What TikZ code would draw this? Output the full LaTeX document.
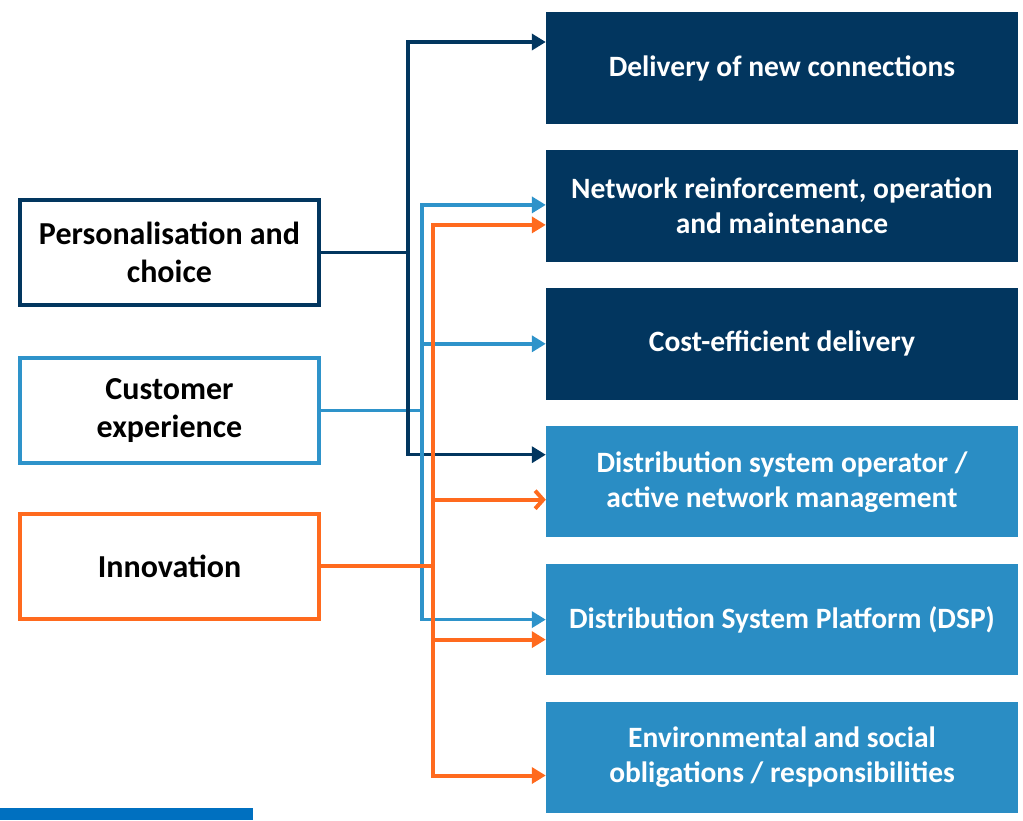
\documentclass[tikz,border=0pt]{standalone}
\usepackage{fontspec}
\setmainfont{Carlito}
\usetikzlibrary{positioning, arrows.meta}

\definecolor{navy}{HTML}{02365F}
\definecolor{midblue}{HTML}{2A8DC4}
\definecolor{lineblue}{HTML}{2E93CA}
\definecolor{flame}{HTML}{FF6A1E}
\definecolor{barblue}{HTML}{0070C0}

\begin{document}
\begin{tikzpicture}[x=1pt, y=-1pt,
    driver/.style={draw=#1, line width=4pt, fill=white, minimum width=299pt,
        minimum height=105pt, align=center, inner sep=2pt,
        font=\bfseries\fontsize{32}{38}\selectfont},
    outcome/.style={fill=#1, minimum width=472pt, minimum height=111.5pt,
        inner sep=0pt, text=white, align=center,
        font=\bfseries\fontsize{29.5}{35}\selectfont},
    link/.style={draw=#1, line width=3.5pt},
    tip/.style={-{Triangle[length=14pt,width=16pt]}},
    barb/.style={-{Straight Barb[length=8pt,width=18pt]}}
    ]
    \useasboundingbox (0,0) rectangle (1023,820);
    \fill[barblue] (0,808) rectangle (253,820);

    % outcomes
    \node[outcome=navy] (deliv) at (782,68) {Delivery of new connections};
    \node[outcome=navy, below=26pt of deliv] (netw) {Network reinforcement, operation\\and maintenance};
    \node[outcome=navy, below=26pt of netw] (cost) {Cost-efficient delivery};
    \node[outcome=midblue, below=26pt of cost] (dso) {Distribution system operator /\\active network management};
    \node[outcome=midblue, below=26pt of dso] (dsp) {Distribution System Platform (DSP)};
    \node[outcome=midblue, below=26pt of dsp] (env) {Environmental and social\\obligations / responsibilities};

    % drivers
    \node[driver=navy] (pers) at (169.5,252.5) {Personalisation and\\choice};
    \node[driver=lineblue] (cust) at (169.5,410.5) {Customer\\experience};
    \node[driver=flame] (innov) at (169.5,566) {Innovation};

    \coordinate (pbus) at ([xshift=87pt]pers.east);
    \coordinate (cbus) at ([xshift=101pt]cust.east);
    \coordinate (ibus) at ([xshift=112pt]innov.east);

    \draw[link=lineblue] (cust.east) -- (cbus);

    \draw[link=navy] (pers.east) -- (pbus);
    \draw[link=navy, tip] (pbus) |- ([yshift=26pt]deliv.west);
    \draw[link=navy, tip] (pbus) |- ([yshift=27pt]dso.west);

    \draw[link=lineblue, tip] (cbus) |- ([yshift=1pt]netw.west);
    \draw[link=lineblue, tip] (cbus) |- (cost.west);
    \draw[link=lineblue, tip] (cbus) |- (dsp.west);

    \draw[link=flame, line width=4pt] (innov.east) -- (ibus);
    \draw[link=flame, line width=4pt, tip] (ibus) |- ([yshift=-19pt]netw.west);
    \draw[link=flame, line width=4pt, barb] (ibus) |- ([yshift=-18pt]dso.west);
    \draw[link=flame, line width=4pt, tip] (ibus) |- ([yshift=-20pt]dsp.west);
    \draw[link=flame, line width=4pt, tip] (ibus) |- ([yshift=-18pt]env.west);
\end{tikzpicture}
\end{document}
